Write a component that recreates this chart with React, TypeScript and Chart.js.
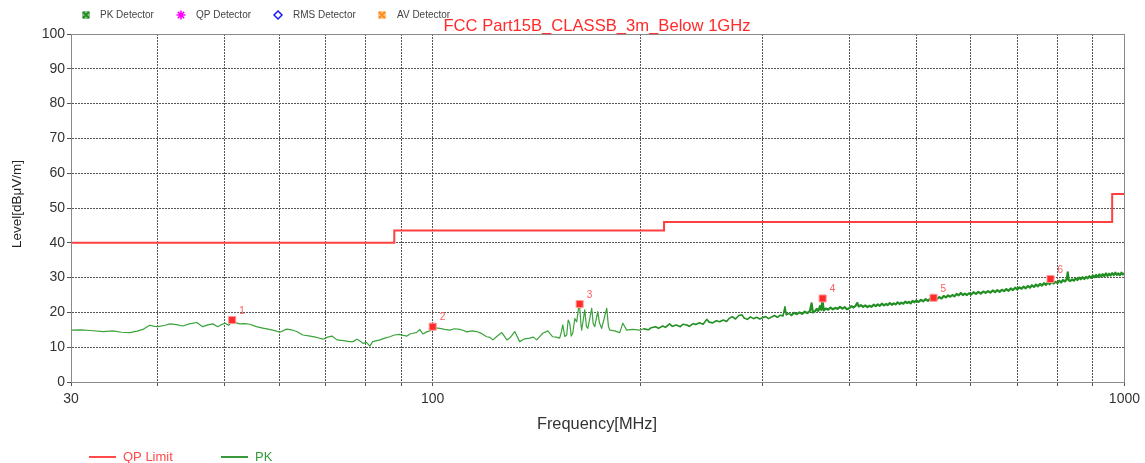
import React, { useEffect, useRef } from 'react';
import { Chart, registerables } from 'chart.js';

Chart.register(...registerables);

const FONT = '"Liberation Sans", Arial, sans-serif';

const titleText = 'FCC Part15B_CLASSB_3m_Below 1GHz';
const xTitle = 'Frequency[MHz]';
const yTitle = 'Level[dBμV/m]';
const detectorLegend = ['PK Detector', 'QP Detector', 'RMS Detector', 'AV Detector'];
const lineLegend = ['QP Limit', 'PK'];

const limitFreq = [30, 88, 88, 216, 216, 960, 960, 1000];
const limitLevel = [40, 40, 43.5, 43.5, 46, 46, 54, 54];

const pkFreq = [
  30, 31, 32, 33.4, 34.5, 35.5, 36.5, 37.4, 38.2, 39.0, 39.6, 40.1, 41.0, 41.7, 42.6, 43.5, 44.5, 45.6, 46.5, 47.3,
  48.1, 48.9, 49.5, 50.1, 50.7, 51.3, 52.6, 53.5, 54.4, 55.6, 56.8, 57.8, 58.7, 59.5, 60.1, 61.5, 62.5, 63.6, 64.9, 66.5,
  68.0, 69.4, 70.5, 71.5, 72.7, 74.3, 75.9, 76.7, 77.7, 78.5, 79.3, 80.2, 81.1, 81.9, 83.0, 83.9, 85.3, 86.7, 88.0, 89.6,
  90.7, 91.8, 92.7, 93.6, 94.7, 95.8, 96.8, 98.0, 99.1, 100, 102.4, 104, 105.9, 107.5, 109.4, 110.8, 112.0, 114, 115.8, 117.8,
  119.7, 121, 122.2, 124, 125.9, 128.0, 129.5, 131.4, 133.6, 135.8, 138.1, 139.8, 141.4, 143, 144.3, 146.7, 149.1, 150.8, 152.6, 153.5,
  154.2, 155.2, 156.2, 157.0, 157.8, 158.6, 159.4, 160.5, 161.5, 162.6, 163.1, 163.8, 164.2, 165.9, 166.8, 167.6, 169.8, 170.6, 171.5, 173.2,
  174.2, 175.5, 178.5, 179.5, 180.3, 183.3, 186.4, 188.3, 190.8, 194.6, 199.2,
  202, 205, 207, 210, 212, 215, 217, 220, 222, 225, 228, 230, 233, 235, 238, 240, 243, 246, 249, 251,
  254, 257, 260, 263, 266, 268, 271, 274, 277, 280, 282, 285, 288, 291, 294, 297, 300, 303, 306, 309,
  312, 315, 318, 321, 323, 324.5, 327, 330, 333, 336, 339, 342, 345, 348, 351, 353, 354.5, 357, 359, 361,
  363, 364.5, 366, 367.5, 370, 373, 376, 379, 382, 385, 388, 391, 394, 397, 400, 403, 406, 409, 411, 413,
  416, 419, 422, 425, 428, 431, 434, 437, 440, 443, 446, 449, 452, 455, 458, 461, 464, 467, 470, 473,
  476, 479, 482, 485, 488, 491, 494, 497, 500, 504, 508, 512, 516, 520, 524, 528, 532, 536, 540, 544,
  548, 552, 556, 560, 564, 568, 572, 576, 580, 584, 588, 592, 596, 600, 605, 610, 615, 620, 625, 630,
  635, 640, 645, 650, 655, 660, 665, 670, 675, 680, 685, 690, 695, 700, 705, 710, 715, 720, 725, 730,
  735, 740, 745, 750, 755, 760, 765, 770, 775, 780, 785, 790, 795, 800, 805, 810, 815, 820, 825, 828,
  831, 835, 840, 845, 850, 855, 860, 865, 870, 875, 880, 885, 890, 895, 900, 905, 910, 915, 920, 925,
  930, 935, 940, 945, 950, 955, 960, 965, 970, 975, 980, 985, 990, 995, 1000,
];

const pkLevel = [
  14.9, 15.0, 14.8, 14.5, 14.7, 14.3, 14.2, 14.6, 15.2, 16.3, 16.0, 15.9, 16.3, 16.7, 16.5, 16.1, 16.7, 17.1, 15.9, 16.4,
  16.7, 15.9, 16.5, 16.9, 16.3, 17.4, 16.7, 16.8, 16.6, 15.9, 15.5, 15.2, 14.9, 14.6, 14.3, 15.2, 15.0, 14.5, 13.5, 13.2,
  12.8, 12.3, 12.9, 13.2, 12.1, 11.9, 11.6, 11.6, 12.3, 11.8, 11.1, 11.4, 10.3, 11.6, 11.9, 12.1, 12.6, 13.0, 13.5, 13.7,
  13.4, 13.2, 13.8, 14.0, 14.2, 15.1, 13.8, 14.4, 14.7, 15.6, 15.4, 15.1, 14.9, 15.3, 15.1, 14.8, 14.4, 14.7, 14.5, 13.9,
  13.0, 12.8, 12.1, 13.2, 14.2, 12.1, 12.8, 14.5, 11.6, 12.4, 12.6, 12.9, 12.1, 13.2, 14.0, 14.7, 13.0, 12.9, 12.6, 14.5,
  16.4, 13.1, 13.5, 17.8, 16.9, 13.2, 14.0, 18.2, 17.3, 21.6, 21.8, 16.5, 14.9, 20.7, 16.0, 15.4, 21.2, 16.8, 15.9, 20.2,
  17.0, 15.4, 21.2, 16.0, 14.9, 14.7, 14.2, 16.9, 14.9, 15.1, 14.9,
  15.3, 15.0, 15.6, 15.9, 15.4, 16.1, 15.7, 16.7, 16.0, 16.4, 15.9, 16.6, 16.4, 16.0, 16.8, 16.5, 17.0, 16.6, 18.0, 17.2,
  17.0, 17.6, 17.3, 17.8, 17.4, 18.2, 18.8, 18.1, 19.1, 19.3, 18.4, 18.0, 18.7, 18.2, 18.6, 18.1, 18.5, 18.8, 18.2, 18.7,
  19.1, 18.6, 19.2, 19.0, 21.6, 19.3, 19.7, 19.2, 19.9, 19.5, 20.0, 19.6, 20.2, 19.8, 20.4, 22.6, 20.0, 20.3, 21.0, 20.4,
  21.8, 20.7, 23.5, 20.6, 21.1, 20.8, 21.4, 20.9, 21.3, 21.0, 21.6, 21.1, 21.5, 20.9, 21.2, 21.8, 21.4, 22.0, 22.7, 21.7,
  22.1, 21.6, 22.0, 21.5, 21.9, 21.6, 22.2, 21.8, 22.3, 21.9, 22.5, 22.0, 22.4, 22.1, 22.7, 22.2, 22.6, 22.3, 22.9, 22.4,
  22.8, 22.5, 23.1, 22.7, 23.0, 22.6, 23.3, 22.9, 23.4, 23.0, 23.6, 23.2, 23.8, 23.3, 24.0, 23.7, 24.3, 23.9, 24.4, 24.0,
  24.7, 24.3, 24.9, 24.5, 25.0, 24.6, 25.3, 24.9, 25.6, 25.0, 25.4, 25.0, 25.5, 25.1, 25.8, 25.3, 25.9, 25.4, 26.0, 25.6,
  26.1, 25.7, 26.3, 25.8, 26.4, 25.9, 26.5, 26.1, 26.7, 26.2, 26.9, 26.4, 27.1, 26.6, 27.2, 26.8, 27.4, 26.9, 27.6, 27.1,
  27.8, 27.3, 28.0, 27.5, 28.2, 27.7, 28.4, 27.9, 28.6, 28.1, 28.9, 28.3, 28.8, 28.4, 29.1, 28.6, 29.3, 28.9, 29.5, 31.5,
  29.2, 29.0, 29.5, 29.1, 29.8, 29.3, 30.0, 29.5, 30.1, 29.6, 30.2, 29.8, 30.4, 29.9, 30.6, 30.1, 30.8, 30.2, 30.9, 30.3,
  31.0, 30.4, 31.2, 30.5, 31.1, 30.6, 31.3, 30.7, 31.4, 30.8, 31.2, 30.7, 31.4, 30.9, 31.2,
];

const markerFreq = [51.3, 100, 163.1, 366.2, 529.7, 781.9];
const markerLevel = [17.8, 15.9, 22.4, 24.0, 24.2, 29.6];
const markerLabels = ['1', '2', '3', '4', '5', '6'];

const xTickValues = [30, 40, 50, 60, 70, 80, 90, 100, 200, 300, 400, 500, 600, 700, 800, 900, 1000];
const xTickLabels = ['30', '', '', '', '', '', '', '100', '', '', '', '', '', '', '', '', '1000'];

const toXY = (xs: number[], ys: number[]) => xs.map((x, i) => ({ x, y: ys[i] }));

const decorPlugin = {
  id: 'decor',
  afterDraw(chart: any) {
    const ctx = chart.ctx;
    const a = chart.chartArea;
    const xs = chart.scales.x;
    const ys = chart.scales.y;
    ctx.save();
    // frame
    ctx.strokeStyle = '#8a8a8a';
    ctx.lineWidth = 1;
    ctx.strokeRect(Math.round(a.left) + 0.5, Math.round(a.top) + 0.5, Math.round(a.right - a.left), Math.round(a.bottom - a.top));

    // title
    ctx.fillStyle = '#ff2a2a';
    ctx.font = `16.6px ${FONT}`;
    ctx.textAlign = 'center';
    ctx.textBaseline = 'middle';
    ctx.fillText(titleText, 597, 26);

    // top detector legend
    ctx.font = `10px ${FONT}`;
    ctx.textAlign = 'left';
    ctx.fillStyle = '#444';
    const lx = [86, 181, 278, 382];
    const tx = [100, 196, 293, 397];
    const ly = 15;
    detectorLegend.forEach((t, i) => ctx.fillText(t, tx[i], ly));
    const drawXBox = (cx: number, cy: number, col: string) => {
      ctx.strokeStyle = col;
      ctx.lineWidth = 2;
      ctx.beginPath();
      ctx.moveTo(cx - 3, cy - 3); ctx.lineTo(cx + 3, cy + 3);
      ctx.moveTo(cx + 3, cy - 3); ctx.lineTo(cx - 3, cy + 3);
      ctx.stroke();
      ctx.lineWidth = 1;
      ctx.strokeRect(cx - 3, cy - 3, 6, 6);
    };
    drawXBox(lx[0], ly, '#1f8a1f');
    ctx.strokeStyle = '#ff00ff';
    ctx.lineWidth = 1.6;
    ctx.beginPath();
    for (let k = 0; k < 8; k++) {
      const ang = (Math.PI / 4) * k;
      ctx.moveTo(lx[1], ly);
      ctx.lineTo(lx[1] + 4.5 * Math.cos(ang), ly + 4.5 * Math.sin(ang));
    }
    ctx.stroke();
    ctx.strokeStyle = '#1a1aff';
    ctx.lineWidth = 1.5;
    ctx.beginPath();
    ctx.moveTo(lx[2], ly - 4); ctx.lineTo(lx[2] + 4, ly); ctx.lineTo(lx[2], ly + 4); ctx.lineTo(lx[2] - 4, ly); ctx.closePath();
    ctx.stroke();
    drawXBox(lx[3], ly, '#ff8c1a');

    // axis titles
    ctx.fillStyle = '#222';
    ctx.font = `13.5px ${FONT}`;
    ctx.textAlign = 'center';
    ctx.save();
    ctx.translate(17, 204);
    ctx.rotate(-Math.PI / 2);
    ctx.fillText(yTitle, 0, 0);
    ctx.restore();
    ctx.font = `16.4px ${FONT}`;
    ctx.fillStyle = '#333';
    ctx.fillText(xTitle, 597, 424);

    // bottom legend
    ctx.lineWidth = 2;
    ctx.strokeStyle = '#ff4a4a';
    ctx.beginPath(); ctx.moveTo(89, 457); ctx.lineTo(116, 457); ctx.stroke();
    ctx.strokeStyle = '#3a9a3a';
    ctx.beginPath(); ctx.moveTo(221, 457); ctx.lineTo(248, 457); ctx.stroke();
    ctx.font = `13px ${FONT}`;
    ctx.textAlign = 'left';
    ctx.fillStyle = '#ff4a4a';
    ctx.fillText(lineLegend[0], 123, 457);
    ctx.fillStyle = '#3a9a3a';
    ctx.fillText(lineLegend[1], 255, 457);

    // marker labels
    ctx.font = `10px ${FONT}`;
    ctx.fillStyle = '#ff5c5c';
    markerFreq.forEach((f, i) => {
      const px = xs.getPixelForValue(f);
      const py = ys.getPixelForValue(markerLevel[i]);
      ctx.fillText(markerLabels[i], px + 7, py - 9);
    });
    ctx.restore();
  },
};

export default function App() {
  const ref = useRef<HTMLCanvasElement | null>(null);
  useEffect(() => {
    if (!ref.current) return;
    const chart = new Chart(ref.current, {
      type: 'scatter',
      data: {
        datasets: [
          {
            label: 'Markers',
            data: toXY(markerFreq, markerLevel),
            showLine: false,
            pointStyle: 'rect',
            pointRadius: 5,
            backgroundColor: '#ff2a2a',
            borderColor: '#ff9a9a',
            borderWidth: 1,
            order: 0,
          },
          {
            label: lineLegend[0],
            data: toXY(limitFreq, limitLevel),
            showLine: true,
            pointRadius: 0,
            borderColor: '#ff4040',
            borderWidth: 2,
            order: 1,
          },
          {
            label: lineLegend[1],
            data: toXY(pkFreq, pkLevel),
            showLine: true,
            pointRadius: 0,
            borderColor: '#3aa33a',
            borderWidth: 1.2,
            borderJoinStyle: 'round',
            borderCapStyle: 'round',
            segment: {
              borderWidth: (c: any) => (c.p0.parsed.x >= 330 ? 2.2 : c.p0.parsed.x >= 200 ? 1.6 : 1.2),
              borderColor: (c: any) => (c.p0.parsed.x >= 200 ? '#228f22' : '#3aa33a'),
            },
            order: 2,
          },
        ],
      },
      options: {
        responsive: false,
        animation: false,
        layout: { padding: { top: 34, right: 20, left: 0, bottom: 0 } },
        plugins: { legend: { display: false }, tooltip: { enabled: false }, title: { display: false } },
        scales: {
          x: {
            type: 'logarithmic',
            min: 30,
            max: 1000,
            afterBuildTicks: (s: any) => {
              s.ticks = xTickValues.map((v) => ({ value: v }));
            },
            afterFit: (s: any) => {
              s.height = 81;
            },
            ticks: {
              autoSkip: false,
              maxRotation: 0,
              padding: 5,
              color: '#333',
              font: { size: 14, family: FONT },
              callback: (_v: any, i: number) => xTickLabels[i],
            },
            grid: { color: '#555', lineWidth: 1, tickLength: 4, tickColor: '#555' },
            border: { display: true, color: '#8a8a8a', dash: [2, 1] },
          },
          y: {
            min: 0,
            max: 100,
            afterFit: (s: any) => {
              s.width = 71;
            },
            ticks: { stepSize: 10, padding: 2, color: '#333', font: { size: 14, family: FONT } },
            grid: { color: '#555', lineWidth: 1, tickLength: 4, tickColor: '#555' },
            border: { display: true, color: '#8a8a8a', dash: [2, 1] },
          },
        },
      },
      plugins: [decorPlugin],
    } as any);
    return () => chart.destroy();
  }, []);
  return (
    <div style={{ position: 'fixed', left: 0, top: 0, width: 1145, height: 463, background: '#fff' }}>
      <canvas ref={ref} width={1145} height={463} />
    </div>
  );
}
